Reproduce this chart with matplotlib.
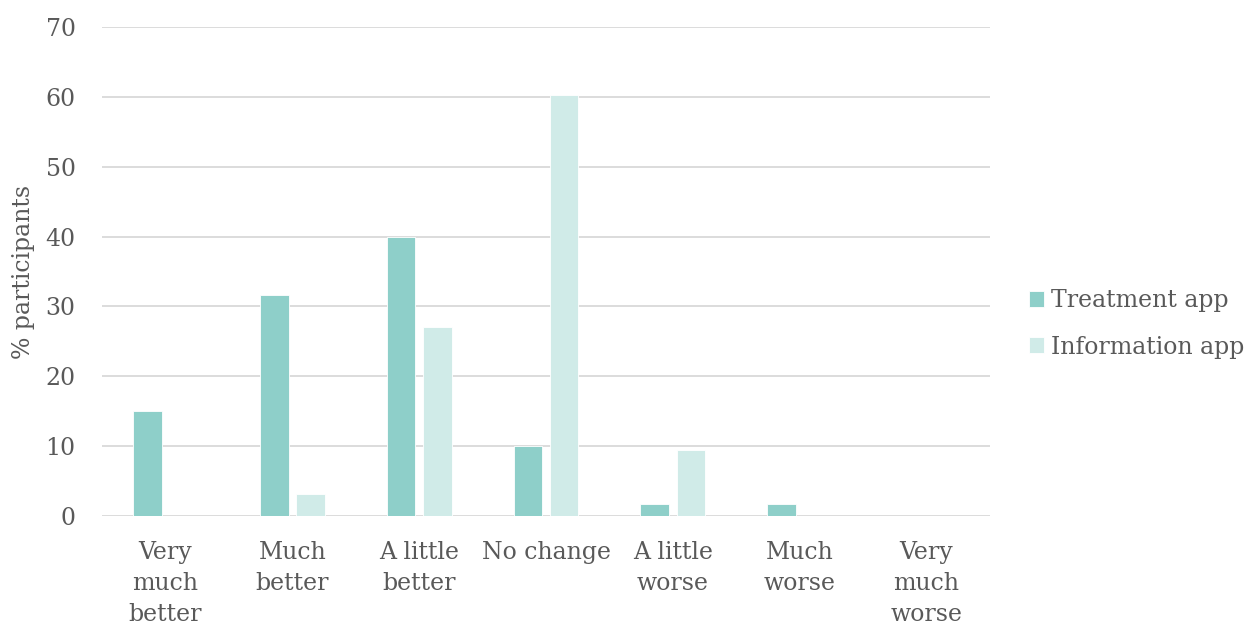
import numpy as np
import matplotlib.pyplot as plt

categories = ["Very\nmuch\nbetter", "Much\nbetter", "A little\nbetter", "No change",
              "A little\nworse", "Much\nworse", "Very\nmuch\nworse"]
treatment = [15.0, 31.7, 40.0, 10.0, 1.7, 1.7, 0.0]
information = [0.0, 3.2, 27.0, 60.3, 9.5, 0.0, 0.0]
yticks = [0, 10, 20, 30, 40, 50, 60, 70]

plt.rcParams['font.family'] = ['DejaVu Serif']
txt = '#595959'

fig = plt.figure(figsize=(12.49, 6.28), dpi=100)
ax = fig.add_axes([0.0817, 0.1783, 0.7109, 0.7787])

x = np.arange(len(categories))
w = 0.225
off = 0.1425
ax.bar(x - off, treatment, w, color='#8ECFC9', edgecolor='white', linewidth=0.6, label='Treatment app', zorder=3)
ax.bar(x + off, information, w, color='#D0EBE8', edgecolor='white', linewidth=0.6, label='Information app', zorder=3)

ax.set_xlim(-0.5, len(categories) - 0.5)
ax.set_ylim(0, 70)
ax.set_yticks(yticks)
ax.set_yticklabels([str(v) for v in yticks])
ax.set_xticks(x)
ax.set_xticklabels(categories, linespacing=1.45, va='top')
ax.yaxis.grid(True, color='#D9D9D9', linewidth=1.3, zorder=0)
ax.set_axisbelow(True)
for s in ax.spines.values():
    s.set_visible(False)
ax.tick_params(axis='both', length=0, labelsize=17, colors=txt)
ax.tick_params(axis='x', pad=18)
ax.tick_params(axis='y', pad=19)
ax.set_ylabel('% participants', fontsize=17, color=txt)
ax.yaxis.set_label_coords(-0.076, 0.5)

leg = ax.legend(loc='center left', bbox_to_anchor=(1.028, 0.393), frameon=False,
                fontsize=17, handlelength=0.65, handleheight=0.65, handletextpad=0.3,
                labelspacing=1.0, labelcolor=txt, borderaxespad=0.2)

fig.savefig('out.png', dpi=100)
